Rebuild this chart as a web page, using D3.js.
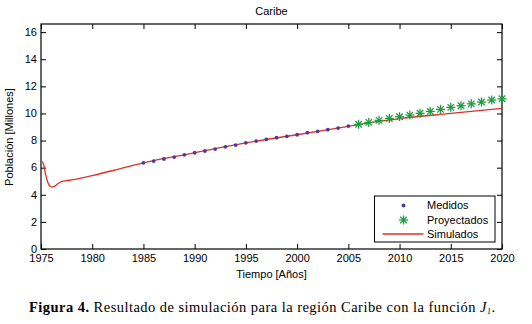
<!DOCTYPE html>
<html><head><meta charset="utf-8">
<script src="https://cdn.jsdelivr.net/npm/d3@7"></script>
<style>body{margin:0;background:#fff}svg{display:block}</style>
</head><body>
<svg id="c" width="532" height="324" font-family="Liberation Sans, Arial, sans-serif"></svg>
<script>
const title = "Caribe";
const xLabel = "Tiempo [Años]";
const yLabel = "Población [Millones]";
const xTicks = [1975,1980,1985,1990,1995,2000,2005,2010,2015,2020];
const yTicks = [0,2,4,6,8,10,12,14,16];
const measuredYears = d3.range(1985, 2006);
const measuredValues = [6.36,6.49,6.64,6.78,6.95,7.10,7.23,7.37,7.54,7.67,7.83,7.96,8.09,8.21,8.31,8.43,8.58,8.68,8.80,8.92,9.07];
const projectedYears = d3.range(2006, 2021);
const projectedValues = [9.20,9.34,9.49,9.63,9.76,9.88,10.01,10.15,10.30,10.45,10.57,10.71,10.84,10.99,11.08];
const simYears = [1975,1975.1,1975.25,1975.45,1975.7,1976,1976.3,1976.7,1977,1977.5,1978,1980,1982.5,1985,1990,1995,2000,2005,2008,2010,2015,2020];
const simValues = [6.40,6.44,6.25,5.50,4.85,4.58,4.62,4.85,4.97,5.04,5.10,5.42,5.88,6.36,7.10,7.83,8.43,9.05,9.42,9.62,10.00,10.37];
const legendLabels = ["Medidos","Proyectados","Simulados"];

const svg = d3.select("#c");
const L=41, R=502, T=24, B=249;
const x = d3.scaleLinear().domain([1975,2020]).range([L,R]);
const y = d3.scaleLinear().domain([0,16.6]).range([B,T]);
const fs = 11;

svg.append("text").attr("x",(L+R)/2).attr("y",15).attr("text-anchor","middle").attr("font-size",fs).text(title);

const gx = svg.append("g").attr("transform",`translate(0,${B})`)
  .call(d3.axisBottom(x).tickValues(xTicks).tickFormat(d3.format("d")).tickSizeInner(-5).tickSizeOuter(0).tickPadding(4));
const gxt = svg.append("g").attr("transform",`translate(0,${T})`)
  .call(d3.axisTop(x).tickValues(xTicks).tickFormat("").tickSizeInner(-5).tickSizeOuter(0));
const gy = svg.append("g").attr("transform",`translate(${L},0)`)
  .call(d3.axisLeft(y).tickValues(yTicks).tickSizeInner(-5).tickSizeOuter(0).tickPadding(4));
const gyr = svg.append("g").attr("transform",`translate(${R},0)`)
  .call(d3.axisRight(y).tickValues(yTicks).tickFormat("").tickSizeInner(-5).tickSizeOuter(0));
[gx,gxt,gy,gyr].forEach(g=>{
  g.select(".domain").remove();
  g.selectAll("line").attr("stroke","#000");
  g.selectAll("text").attr("font-size",fs).attr("font-family","Liberation Sans, Arial, sans-serif").attr("fill","#000");
});
gx.selectAll("text").attr("dy","0.85em");
gy.selectAll("text").attr("dy","0.3em");
svg.append("rect").attr("x",L).attr("y",T).attr("width",R-L).attr("height",B-T).attr("fill","none").attr("stroke","#000").attr("stroke-width",1.2);

svg.append("clipPath").attr("id","cp").append("rect").attr("x",L).attr("y",T).attr("width",R-L).attr("height",B-T);

const simData = simYears.map((d,i)=>[d,simValues[i]]);
svg.append("path").datum(simData).attr("clip-path","url(#cp)")
  .attr("d", d3.line().x(d=>x(d[0])).y(d=>y(d[1])).curve(d3.curveMonotoneX))
  .attr("fill","none").attr("stroke","#e0302a").attr("stroke-width",1.3);

svg.append("g").selectAll("circle").data(measuredYears).join("circle")
  .attr("cx",d=>x(d)).attr("cy",(d,i)=>y(measuredValues[i])).attr("r",1.9).attr("fill","#4a3c98");

function star(g, cx, cy, s){
  const a = s/2, b = a*0.72;
  const segs = [[-a,0,a,0],[0,-a,0,a],[-b,-b,b,b],[-b,b,b,-b]];
  segs.forEach(q=>g.append("line").attr("x1",cx+q[0]).attr("y1",cy+q[1]).attr("x2",cx+q[2]).attr("y2",cy+q[3])
    .attr("stroke","#1f9a3e").attr("stroke-width",1.3));
}
const gs = svg.append("g");
projectedYears.forEach((d,i)=>star(gs, x(d), y(projectedValues[i]), 9));

const lg = svg.append("g");
lg.append("rect").attr("x",374.5).attr("y",196).attr("width",120.5).attr("height",46).attr("fill","#fff").attr("stroke","#000").attr("stroke-width",1);
const ly = [205.5,220,234];
lg.append("circle").attr("cx",403.5).attr("cy",ly[0]).attr("r",1.9).attr("fill","#4a3c98");
star(lg,403.5,ly[1],9);
lg.append("line").attr("x1",382.5).attr("x2",423.5).attr("y1",ly[2]).attr("y2",ly[2]).attr("stroke","#e0302a").attr("stroke-width",1.3);
legendLabels.forEach((t,i)=>lg.append("text").attr("x",427).attr("y",ly[i]).attr("dy","0.35em").attr("font-size",fs).text(t));

svg.append("text").attr("x",(L+R)/2).attr("y",278).attr("text-anchor","middle").attr("font-size",fs).text(xLabel);
svg.append("text").attr("transform","translate(13,137) rotate(-90)").attr("text-anchor","middle").attr("font-size",fs).text(yLabel);

const cap = svg.append("text").attr("x",29).attr("y",311.5).style("font-family","'Liberation Serif', 'DejaVu Serif', serif")
  .attr("font-size",14.5).attr("fill","#000").attr("textLength",466).attr("lengthAdjust","spacing");
cap.append("tspan").attr("font-weight","bold").text("Figura 4.");
cap.append("tspan").text(" Resultado de simulación para la región Caribe con la función ");
cap.append("tspan").attr("font-style","italic").text("J");
cap.append("tspan").attr("font-style","italic").attr("font-size",8).attr("dy",2).text("1");
cap.append("tspan").attr("dy",-2).text(".");
</script>
</body></html>
